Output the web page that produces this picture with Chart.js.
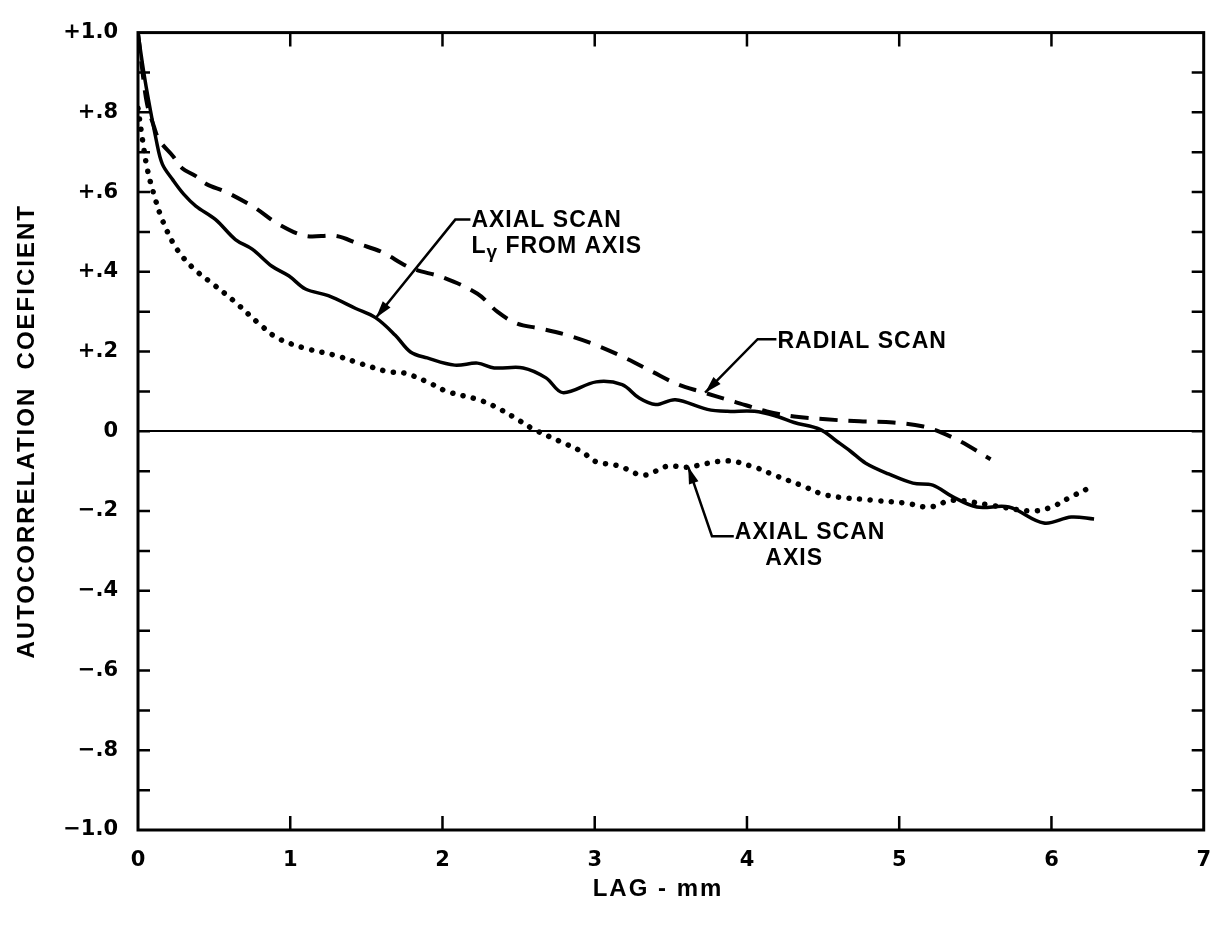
<!DOCTYPE html>
<html>
<head>
<meta charset="utf-8">
<script src="https://cdn.jsdelivr.net/npm/chart.js@4.4.0/dist/chart.umd.min.js"></script>
<style>
  html, body { margin: 0; padding: 0; background: #fff; }
</style>
</head>
<body>
<canvas id="myChart" width="1229" height="932"></canvas>
<script>
// axial scan, L_y from axis (solid)
const axialLyLag  = [0, 0.03, 0.06, 0.12, 0.16, 0.23, 0.30, 0.38, 0.51, 0.64, 0.75, 0.88, 0.99, 1.10, 1.25, 1.43, 1.56, 1.69, 1.79, 1.90, 2.08, 2.23, 2.34, 2.53, 2.68, 2.79, 3.01, 3.18, 3.29, 3.40, 3.53, 3.74, 3.87, 4.05, 4.20, 4.31, 4.48, 4.59, 4.68, 4.78, 4.93, 5.09, 5.22, 5.35, 5.51, 5.72, 5.95, 6.13, 6.28];
const axialLyCoef = [1.0, 0.92, 0.85, 0.73, 0.67, 0.63, 0.595, 0.565, 0.531, 0.481, 0.457, 0.414, 0.39, 0.357, 0.34, 0.308, 0.285, 0.241, 0.199, 0.184, 0.166, 0.171, 0.159, 0.159, 0.134, 0.097, 0.124, 0.117, 0.084, 0.067, 0.079, 0.055, 0.05, 0.05, 0.037, 0.022, 0.005, -0.025, -0.05, -0.08, -0.107, -0.13, -0.135, -0.164, -0.19, -0.19, -0.23, -0.215, -0.22];

// radial scan (dashed)
const radialLag  = [0, 0.03, 0.06, 0.10, 0.14, 0.23, 0.29, 0.38, 0.45, 0.58, 0.77, 0.92, 1.10, 1.30, 1.45, 1.60, 1.79, 2.01, 2.23, 2.36, 2.49, 2.64, 2.83, 3.01, 3.20, 3.38, 3.55, 3.70, 3.92, 4.13, 4.31, 4.52, 4.74, 4.96, 5.16, 5.27, 5.40, 5.60];
const radialCoef = [1.0, 0.90, 0.82, 0.77, 0.73, 0.69, 0.66, 0.64, 0.62, 0.60, 0.56, 0.52, 0.49, 0.49, 0.47, 0.45, 0.41, 0.385, 0.345, 0.30, 0.27, 0.258, 0.24, 0.216, 0.184, 0.149, 0.117, 0.099, 0.074, 0.05, 0.037, 0.03, 0.025, 0.022, 0.012, -0.002, -0.025, -0.07];

// axial scan, axis (dotted)
const axialAxisLag  = [0, 0.03, 0.06, 0.10, 0.16, 0.25, 0.36, 0.49, 0.62, 0.81, 0.92, 1.10, 1.30, 1.46, 1.64, 1.75, 1.90, 2.03, 2.23, 2.34, 2.47, 2.60, 2.77, 2.92, 3.00, 3.16, 3.32, 3.48, 3.60, 3.87, 4.05, 4.18, 4.36, 4.52, 4.83, 5.04, 5.20, 5.35, 5.61, 5.87, 6.00, 6.13, 6.28];
const axialAxisCoef = [0.81, 0.73, 0.66, 0.60, 0.53, 0.46, 0.41, 0.37, 0.33, 0.265, 0.233, 0.208, 0.19, 0.17, 0.15, 0.146, 0.124, 0.10, 0.08, 0.063, 0.035, 0.005, -0.025, -0.052, -0.075, -0.087, -0.11, -0.087, -0.09, -0.074, -0.09, -0.11, -0.136, -0.16, -0.173, -0.18, -0.19, -0.173, -0.186, -0.2, -0.19, -0.164, -0.136];

const yTickLabels = ['\u22121.0', '\u2212.8', '\u2212.6', '\u2212.4', '\u2212.2', '0', '+.2', '+.4', '+.6', '+.8', '+1.0'];
const xTickLabels = ['0', '1', '2', '3', '4', '5', '6', '7'];

const toPoints = (xs, ys) => xs.map((x, i) => ({ x: x, y: ys[i] }));

// callout labels, anchored in data units
const callouts = [
  { lines: [[{ t: 'AXIAL SCAN' }], [{ t: 'L' }, { t: 'γ', sub: true }, { t: ' FROM AXIS' }]],
    text: [2.19, 0.528], elbow: [2.084, 0.531], tip: [1.563, 0.285] },
  { lines: [[{ t: 'RADIAL SCAN' }]],
    text: [4.20, 0.225], elbow: [4.07, 0.231], tip: [3.725, 0.097] },
  { lines: [[{ t: 'AXIAL SCAN' }], [{ t: 'AXIS' }]],
    text: [3.92, -0.255], elbow: [3.77, -0.263], tip: [3.614, -0.089], center2: 4.31 }
];

const FONT = 'bold 23px "Liberation Sans", Arial, sans-serif';
const SUBFONT = 'bold 19px "Liberation Sans", Arial, sans-serif';
const TICKFONT = { family: '"DejaVu Sans", sans-serif', size: 21, weight: 'bold' };

let framePlugin = {
  id: 'frame',
  afterDatasetsDraw(chart) {
    const { ctx, chartArea: a, scales } = chart;
    ctx.save();
    ctx.strokeStyle = '#000';
    ctx.fillStyle = '#000';
    ctx.lineCap = 'butt';

    // frame
    ctx.lineWidth = 3;
    ctx.strokeRect(a.left, a.top, a.right - a.left, a.bottom - a.top);

    // inward ticks
    ctx.lineWidth = 2.5;
    ctx.beginPath();
    for (let i = -9; i <= 9; i++) {
      const py = scales.y.getPixelForValue(i / 10);
      ctx.moveTo(a.left, py); ctx.lineTo(a.left + 12, py);
      ctx.moveTo(a.right, py); ctx.lineTo(a.right - 12, py);
    }
    for (let i = 1; i <= 6; i++) {
      const px = scales.x.getPixelForValue(i);
      ctx.moveTo(px, a.top); ctx.lineTo(px, a.top + 14);
      ctx.moveTo(px, a.bottom); ctx.lineTo(px, a.bottom - 14);
    }
    ctx.stroke();

    // callouts
    ctx.textBaseline = 'middle';
    ctx.letterSpacing = '1px';
    callouts.forEach(c => {
      const tx = scales.x.getPixelForValue(c.text[0]);
      const ty = scales.y.getPixelForValue(c.text[1]);
      const ex = scales.x.getPixelForValue(c.elbow[0]);
      const ey = scales.y.getPixelForValue(c.elbow[1]);
      const px = scales.x.getPixelForValue(c.tip[0]);
      const py = scales.y.getPixelForValue(c.tip[1]);

      ctx.lineWidth = 2.5;
      ctx.beginPath();
      ctx.moveTo(tx - 1, ey);
      ctx.lineTo(ex, ey);
      ctx.lineTo(px, py);
      ctx.stroke();

      const ang = Math.atan2(py - ey, px - ex);
      const len = 17, half = 5;
      ctx.beginPath();
      ctx.moveTo(px, py);
      ctx.lineTo(px - len * Math.cos(ang) + half * Math.sin(ang), py - len * Math.sin(ang) - half * Math.cos(ang));
      ctx.lineTo(px - len * Math.cos(ang) - half * Math.sin(ang), py - len * Math.sin(ang) + half * Math.cos(ang));
      ctx.closePath();
      ctx.fill();

      c.lines.forEach((segs, li) => {
        const y = ty + li * 26;
        let width = 0;
        segs.forEach(s => { ctx.font = s.sub ? SUBFONT : FONT; width += ctx.measureText(s.t).width; });
        let x = tx;
        if (li > 0 && c.center2 !== undefined) x = scales.x.getPixelForValue(c.center2) - width / 2;
        segs.forEach(s => {
          ctx.font = s.sub ? SUBFONT : FONT;
          ctx.fillText(s.t, x, s.sub ? y + 6 : y);
          x += ctx.measureText(s.t).width;
        });
      });
    });

    // axis titles
    ctx.font = 'bold 24px "Liberation Sans", Arial, sans-serif';
    ctx.letterSpacing = '2px';
    ctx.textAlign = 'center';
    ctx.fillText('LAG - mm', 658, 889);
    ctx.translate(27, (a.top + a.bottom) / 2);
    ctx.rotate(-Math.PI / 2);
    ctx.fillText('AUTOCORRELATION  COEFICIENT', 0, 0);
    ctx.restore();
  }
};

let ctx = document.getElementById('myChart').getContext('2d');
let chart = new Chart(ctx, {
  type: 'line',
  data: {
    datasets: [{
      label: 'Axial scan Ly from axis',
      data: toPoints(axialLyLag, axialLyCoef),
      borderColor: '#000',
      borderWidth: 3.5,
      pointRadius: 0,
      tension: 0.35,
      fill: false
    }, {
      label: 'Radial scan',
      data: toPoints(radialLag, radialCoef),
      borderColor: '#000',
      borderWidth: 4,
      borderDash: [18, 11],
      pointRadius: 0,
      tension: 0.35,
      fill: false
    }, {
      label: 'Axial scan axis',
      data: toPoints(axialAxisLag, axialAxisCoef),
      borderColor: '#000',
      borderWidth: 5.5,
      borderDash: [0.1, 10.5],
      borderCapStyle: 'round',
      pointRadius: 0,
      tension: 0.35,
      fill: false
    }]
  },
  options: {
    responsive: false,
    animation: false,
    layout: { padding: { left: 0, top: 24, right: 16, bottom: 0 } },
    plugins: { legend: { display: false }, tooltip: { enabled: false } },
    scales: {
      x: {
        type: 'linear',
        min: 0, max: 7,
        afterFit(scale) { scale.height = 102; },
        border: { display: false },
        grid: { display: false, drawTicks: false },
        ticks: {
          stepSize: 1,
          padding: 18,
          color: '#000',
          font: TICKFONT,
          callback: (v) => xTickLabels[Math.round(v)]
        }
      },
      y: {
        min: -1, max: 1,
        afterFit(scale) { scale.width = 138; },
        border: { display: false },
        grid: {
          drawTicks: false,
          lineWidth: 2,
          color: (c) => (c.tick && Math.abs(c.tick.value) < 1e-9) ? '#000' : 'rgba(0,0,0,0)'
        },
        ticks: {
          stepSize: 0.2,
          padding: 20,
          color: '#000',
          font: TICKFONT,
          callback: (v) => yTickLabels[Math.round(v * 5) + 5]
        }
      }
    }
  },
  plugins: [framePlugin]
});
</script>
</body>
</html>
